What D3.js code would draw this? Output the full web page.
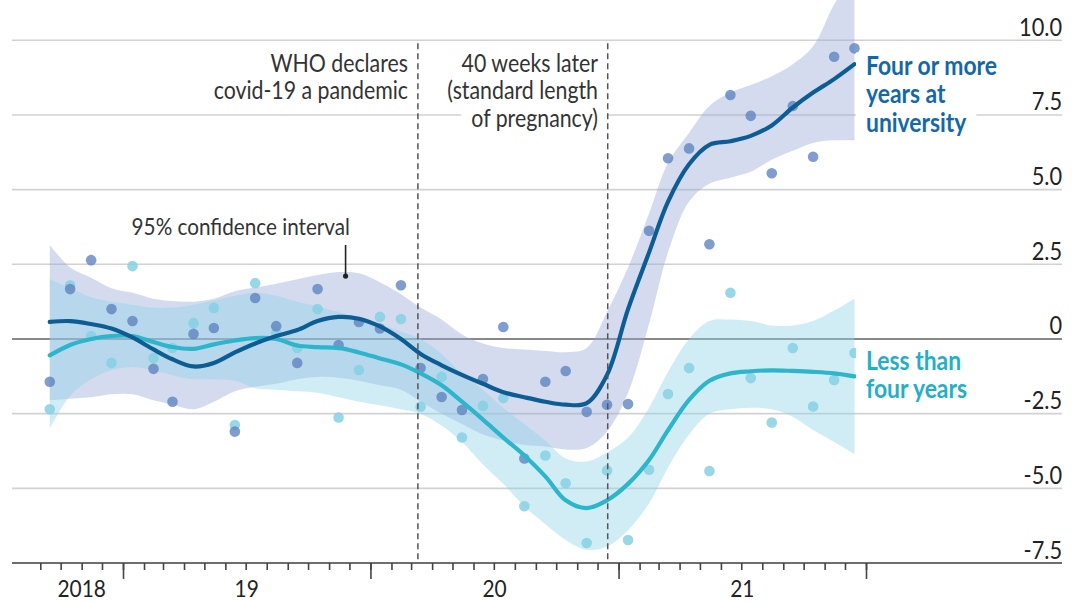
<!DOCTYPE html>
<html>
<head>
<meta charset="utf-8">
<script src="https://cdn.jsdelivr.net/npm/d3@7"></script>
<style>
  html, body { margin: 0; padding: 0; background: #fff; }
  svg { display: block; }
  text { font-family: "Lato", "Noto Sans", sans-serif; }
</style>
</head>
<body>
<svg id="chart" width="1081" height="602"></svg>
<script>
// Monthly observations, Sep 2018 to Dec 2021 (plotted mid-month)
const months = [
  "2018-09","2018-10","2018-11","2018-12",
  "2019-01","2019-02","2019-03","2019-04","2019-05","2019-06","2019-07","2019-08","2019-09","2019-10","2019-11","2019-12",
  "2020-01","2020-02","2020-03","2020-04","2020-05","2020-06","2020-07","2020-08","2020-09","2020-10","2020-11","2020-12",
  "2021-01","2021-02","2021-03","2021-04","2021-05","2021-06","2021-07","2021-08","2021-09","2021-10","2021-11","2021-12"
];

// Mothers with four or more years at university
const fourPlusPoints = [-1.43, 1.67, 2.64, 1.0, 0.6, -1.0, -2.1, 0.17, 0.37, -3.1, 1.37, 0.43, -0.8, 1.67, -0.2, 0.57,
  0.35, 1.8, -0.97, -1.94, -2.38, -1.34, 0.4, -4.0, -1.43, -1.07, -2.44, -2.2,
  -2.18, 3.62, 6.05, 6.38, 3.17, 8.17, 7.47, 5.55, 7.8, 6.1, 9.45, 9.73];
const fourPlusFit = [0.57, 0.6, 0.5, 0.35, 0.05, -0.35, -0.68, -0.92, -0.8, -0.45, -0.15, 0.1, 0.3, 0.6, 0.74, 0.68,
  0.42, 0.0, -0.5, -0.88, -1.2, -1.5, -1.78, -1.95, -2.1, -2.2, -2.15, -1.2,
  1.0, 2.9, 4.6, 5.85, 6.5, 6.62, 6.8, 7.15, 7.75, 8.25, 8.7, 9.2];
const fourPlusLow = [-2.05, -2.0, -1.95, -1.85, -1.85, -2.05, -2.2, -2.35, -2.1, -1.75, -1.6, -1.5, -1.35, -1.27, -1.3, -1.4,
  -1.55, -1.7, -2.1, -2.5, -2.85, -3.2, -3.4, -3.55, -3.6, -3.7, -3.65, -3.1,
  -1.8, 0.5, 2.9, 4.6, 5.2, 5.4, 5.6, 6.0, 6.3, 6.56, 6.65, 6.65];
const fourPlusHigh = [3.15, 2.4, 2.05, 1.7, 1.55, 1.35, 1.27, 1.25, 1.35, 1.6, 1.72, 1.85, 2.0, 2.14, 2.24, 2.2,
  1.9, 1.5, 1.05, 0.65, 0.15, -0.15, -0.3, -0.35, -0.4, -0.44, -0.3, 0.9,
  2.4, 4.2, 5.9, 6.9, 7.8, 8.25, 8.5, 8.8, 9.2, 9.8, 11.2, 12.2];

// Mothers with less than four years at university
const lessPoints = [-2.35, 1.8, 0.1, -0.8, 2.44, -0.64, -0.3, 0.53, 1.04, -2.88, 1.87, 0.2, -0.3, 1.0, -2.63, -1.04,
  0.74, 0.67, -2.27, -1.27, -3.3, -2.24, -1.98, -5.6, -3.9, -4.83, -6.83, -4.4,
  -6.73, -4.38, -1.84, -0.97, -4.42, 1.55, -1.31, -2.8, -0.3, -2.26, -1.37, -0.47];
const lessFit = [-0.55, -0.2, 0.0, 0.1, 0.1, -0.1, -0.27, -0.33, -0.18, -0.05, 0.03, 0.0, -0.22, -0.27, -0.3, -0.45,
  -0.65, -0.85, -1.15, -1.55, -2.1, -2.7, -3.3, -3.9, -4.6, -5.4, -5.66, -5.4,
  -4.85, -4.05, -3.05, -2.04, -1.4, -1.15, -1.08, -1.05, -1.07, -1.1, -1.15, -1.25];
const lessLow = [-3.0, -1.9, -1.35, -1.05, -0.95, -1.05, -1.22, -1.35, -1.35, -1.4, -1.65, -1.7, -1.75, -1.8, -1.95, -2.1,
  -2.22, -2.35, -2.5, -2.9, -3.45, -4.2, -4.85, -5.6, -6.2, -6.73, -7.06, -6.95,
  -6.4, -5.5, -4.3, -3.2, -2.5, -2.35, -2.3, -2.35, -2.6, -3.05, -3.45, -3.85];
const lessHigh = [2.0, 1.7, 1.4, 1.25, 1.15, 1.05, 1.05, 1.15, 1.3, 1.45, 1.55, 1.45, 1.25, 1.1, 0.9, 0.7,
  0.5, 0.25, 0.0, -0.5, -1.15, -1.7, -2.3, -2.85, -3.4, -4.0, -4.1, -3.8,
  -3.3, -2.3, -1.1, 0.0, 0.6, 0.65, 0.6, 0.45, 0.45, 0.6, 0.95, 1.35];

// Axis ticks and labels
const yTicks = [10, 7.5, 5, 2.5, 0, -2.5, -5, -7.5];
const yTickLabels = ["10.0", "7.5", "5.0", "2.5", "0", "-2.5", "-5.0", "-7.5"];
const yearStarts = ["2018-09-01", "2019-01-01", "2020-01-01", "2021-01-01", "2022-01-01"];
const yearLabels = ["2018", "19", "20", "21"];

// Event markers
const eventDates = ["2020-03-11", "2020-12-16"];
const eventLabels = [["WHO declares", "covid-19 a pandemic"], ["40 weeks later", "(standard length", "of pregnancy)"]];

const colFour = "#0d5d95", colFourText = "#1369a8";
const colLess = "#2db5cb", colLessText = "#23afc7";
const SQ = 0.87; // horizontal squeeze giving a condensed look to the type

const parseDay = d3.timeParse("%Y-%m-%d");
const dates = months.map(m => parseDay(m + "-15"));

const svg = d3.select("#chart");
const x = d3.scaleTime()
  .domain([parseDay(yearStarts[0]), parseDay(yearStarts[yearStarts.length - 1])])
  .range([40.3, 866]);
const y = d3.scaleLinear().domain([-7.5, 10]).range([563, 40.3]);

const gridLeft = 12, gridRight = 1062;
const place = (px, py) => `translate(${px},${py}) scale(${SQ},1)`;

// Horizontal gridlines
svg.append("g").selectAll("line")
  .data(yTicks.filter(v => v !== -7.5 && v !== 0))
  .join("line")
  .attr("x1", gridLeft).attr("x2", gridRight)
  .attr("y1", d => y(d)).attr("y2", d => y(d))
  .attr("stroke", "#d2d2d2").attr("stroke-width", 1.6);

svg.append("line")
  .attr("x1", gridLeft).attr("x2", gridRight)
  .attr("y1", y(0)).attr("y2", y(0))
  .attr("stroke", "#888").attr("stroke-width", 1.8);

// Confidence bands
const band = (lo, hi) => d3.area()
  .x((d, i) => x(dates[i]))
  .y0((d, i) => y(lo[i]))
  .y1((d, i) => y(hi[i]))
  .curve(d3.curveCatmullRom.alpha(0.5));

svg.append("path")
  .attr("d", band(fourPlusLow, fourPlusHigh)(months))
  .attr("fill", "#97a6d8").attr("fill-opacity", 0.4);
svg.append("path")
  .attr("d", band(lessLow, lessHigh)(months))
  .attr("fill", "#8fd4e6").attr("fill-opacity", 0.42);

// Monthly points
svg.append("g").selectAll("circle")
  .data(lessPoints)
  .join("circle")
  .attr("cx", (d, i) => x(dates[i])).attr("cy", d => y(d)).attr("r", 5.3)
  .attr("fill", "#86d0e3").attr("fill-opacity", 0.85);
svg.append("g").selectAll("circle")
  .data(fourPlusPoints)
  .join("circle")
  .attr("cx", (d, i) => x(dates[i])).attr("cy", d => y(d)).attr("r", 5.3)
  .attr("fill", "#5f84c0").attr("fill-opacity", 0.8);

// Smoothed trend lines
const trend = vals => d3.line()
  .x((d, i) => x(dates[i]))
  .y((d, i) => y(vals[i]))
  .curve(d3.curveCatmullRom.alpha(0.5))(vals);

svg.append("path").attr("d", trend(lessFit))
  .attr("fill", "none").attr("stroke", colLess).attr("stroke-width", 4.2)
  .attr("stroke-linecap", "round");
svg.append("path").attr("d", trend(fourPlusFit))
  .attr("fill", "none").attr("stroke", colFour).attr("stroke-width", 4.2)
  .attr("stroke-linecap", "round");

// Multi-line labels, each line on a white knock-out box
function labelLines(lines, opts) {
  const g = svg.append("g");
  lines.forEach((t, k) => {
    const lg = g.append("g").attr("transform", place(opts.x, opts.y0 + k * opts.dy));
    const txt = lg.append("text")
      .attr("text-anchor", opts.anchor || "start")
      .attr("font-size", opts.size)
      .attr("font-weight", opts.weight || "normal")
      .attr("fill", opts.color)
      .text(t);
    const b = txt.node().getBBox();
    lg.insert("rect", "text")
      .attr("x", b.x - 10 / SQ).attr("y", b.y + 3)
      .attr("width", b.width + 20 / SQ).attr("height", b.height - 4)
      .attr("fill", "#fff");
  });
  return g;
}

labelLines(eventLabels[0], { x: 408, y0: 71.5, dy: 27.5, anchor: "end", size: 24.5, color: "#333" });
labelLines(eventLabels[1], { x: 598, y0: 71.5, dy: 27.8, anchor: "end", size: 24.5, color: "#333" });

labelLines(["Four or more", "years at", "university"],
  { x: 866, y0: 75, dy: 28.3, size: 26.3, weight: "bold", color: colFourText });
labelLines(["Less than", "four years"],
  { x: 866, y0: 370, dy: 28, size: 26.3, weight: "bold", color: colLessText });

// Event dashed lines
svg.append("g").selectAll("line")
  .data(eventDates)
  .join("line")
  .attr("x1", d => x(parseDay(d))).attr("x2", d => x(parseDay(d)))
  .attr("y1", y(10) + 3).attr("y2", y(-7.5))
  .attr("stroke", "#555").attr("stroke-width", 1.5)
  .attr("stroke-dasharray", "6,4");

// Confidence interval callout
const ciIdx = 14;
const ciX = x(dates[ciIdx]) + 7;
const ciTipY = y(fourPlusHigh[ciIdx]) + 4;
svg.append("text")
  .attr("transform", place(350, 234.5))
  .attr("text-anchor", "end").attr("font-size", 23.8).attr("fill", "#333")
  .text("95% confidence interval");
svg.append("line")
  .attr("x1", ciX).attr("x2", ciX).attr("y1", 245).attr("y2", ciTipY)
  .attr("stroke", "#222").attr("stroke-width", 1.6);
svg.append("circle").attr("cx", ciX).attr("cy", ciTipY).attr("r", 2.6).attr("fill", "#222");

// Y tick labels, right-aligned above each gridline
svg.append("g").selectAll("text")
  .data(yTicks)
  .join("text")
  .attr("transform", d => place(gridRight, y(d) - 4.5))
  .attr("text-anchor", "end").attr("font-size", 25).attr("fill", "#222")
  .text((d, i) => yTickLabels[i]);

// X axis: baseline, monthly minor ticks, yearly major ticks
svg.append("line")
  .attr("x1", gridLeft).attr("x2", gridRight)
  .attr("y1", y(-7.5)).attr("y2", y(-7.5))
  .attr("stroke", "#6e6e6e").attr("stroke-width", 1.8);

const monthTicks = d3.timeMonth.range(x.domain()[0], d3.timeDay.offset(x.domain()[1], 1));
const yearTickDates = yearStarts.slice(1).map(parseDay);
const axisMinor = d3.axisBottom(x).tickValues(monthTicks).tickSize(7).tickFormat("");
const axisMajor = d3.axisBottom(x).tickValues(yearTickDates).tickSize(16).tickFormat("");

const gMinor = svg.append("g").attr("transform", `translate(0,${y(-7.5)})`).call(axisMinor);
const gMajor = svg.append("g").attr("transform", `translate(0,${y(-7.5)})`).call(axisMajor);
[gMinor, gMajor].forEach(g => {
  g.select(".domain").remove();
  g.selectAll(".tick line").attr("stroke", "#444").attr("stroke-width", 1.6);
});

svg.append("g").selectAll("text")
  .data(yearLabels)
  .join("text")
  .attr("transform", (d, i) =>
    place((x(parseDay(yearStarts[i])) + x(parseDay(yearStarts[i + 1]))) / 2, 597))
  .attr("text-anchor", "middle").attr("font-size", 24).attr("fill", "#222")
  .text(d => d);
</script>
</body>
</html>
